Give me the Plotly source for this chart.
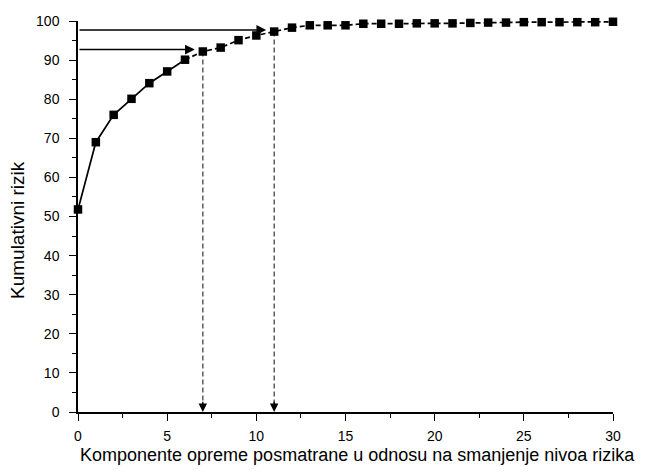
import plotly.graph_objects as go

# Data
x_vals = list(range(0, 31))
y_vals = [51.8, 69.0, 76.0, 80.1, 84.1, 87.1, 90.1, 92.2, 93.2, 95.1, 96.3, 97.3,
          98.3, 98.9, 98.9, 98.9, 99.3, 99.3, 99.3, 99.4, 99.4, 99.4, 99.5, 99.6,
          99.6, 99.7, 99.7, 99.7, 99.7, 99.7, 99.8]
solid_end = 6            # solid segment up to this index, dashed afterwards
arrow_x = [7, 11]        # components marked with arrows
arrow_y = [92.7, 97.7]   # horizontal arrow levels

x_ticks = [0, 5, 10, 15, 20, 25, 30]
y_ticks = [0, 10, 20, 30, 40, 50, 60, 70, 80, 90, 100]
x_title = "Komponente opreme posmatrane u odnosu na smanjenje nivoa rizika"
y_title = "Kumulativni rizik"

FONT = "Liberation Sans, Arial, sans-serif"

fig = go.Figure()

# vertical dashed guides (drawn first, below markers)
for xa, ya in zip(arrow_x, arrow_y):
    fig.add_shape(type="line", xref="x", yref="y", x0=xa, x1=xa, y0=y_vals[xa], y1=2,
                  line=dict(color="#444444", width=1.3, dash="5px,3px"), layer="below")

fig.add_trace(go.Scatter(x=x_vals[:solid_end + 1], y=y_vals[:solid_end + 1], mode="lines",
                         line=dict(color="black", width=1.7), hoverinfo="skip", showlegend=False))
fig.add_trace(go.Scatter(x=x_vals[solid_end:], y=y_vals[solid_end:], mode="lines",
                         line=dict(color="black", width=1.7, dash="5px,3px"), hoverinfo="skip",
                         showlegend=False))
fig.add_trace(go.Scatter(x=x_vals, y=y_vals, mode="markers",
                         marker=dict(symbol="square", size=8.5, color="black"),
                         cliponaxis=False, showlegend=False))

# horizontal arrows from y-axis to points
for xa, ya in zip(arrow_x, arrow_y):
    fig.add_annotation(x=xa, y=ya, ax=0, ay=ya, xref="x", yref="y", axref="x", ayref="y",
                       showarrow=True, arrowhead=2, arrowsize=1.3, arrowwidth=1.5,
                       arrowcolor="black", standoff=8, text="")
    # arrowhead at the bottom of vertical dashed guides
    fig.add_annotation(x=xa, y=0, ax=xa, ay=3, xref="x", yref="y", axref="x", ayref="y",
                       showarrow=True, arrowhead=2, arrowsize=1.3, arrowwidth=1.3,
                       arrowcolor="black", standoff=0, text="")

# axis titles as text annotations
fig.add_annotation(x=0.523, y=0, xref="paper", yref="paper", text=x_title, showarrow=False,
                   xanchor="center", yanchor="middle", yshift=-43, font=dict(size=18))
fig.add_annotation(x=0, y=0.4655, xref="paper", yref="paper", text=y_title, showarrow=False,
                   textangle=-90, xanchor="center", yanchor="middle", xshift=-60,
                   font=dict(size=19))

fig.update_layout(
    width=640, height=460,
    margin=dict(l=70, r=35, t=13, b=56),
    paper_bgcolor="white", plot_bgcolor="white",
    font=dict(family=FONT, size=14, color="black"),
)
fig.update_xaxes(range=[0, 30], tickvals=x_ticks, showgrid=False, zeroline=False,
                 showline=True, linecolor="black", linewidth=1.5, automargin=False,
                 ticks="outside", ticklen=7, tickwidth=1.3, tickcolor="black",
                 minor=dict(dtick=2.5, ticks="outside", ticklen=4, tickwidth=1.2, tickcolor="black"),
                 tickfont=dict(size=14), ticklabelstandoff=3)
fig.update_yaxes(range=[0, 100], tickvals=y_ticks, showgrid=False, zeroline=False,
                 showline=True, linecolor="black", linewidth=1.5, automargin=False,
                 ticks="outside", ticklen=7, tickwidth=1.3, tickcolor="black",
                 minor=dict(dtick=5, ticks="outside", ticklen=4, tickwidth=1.2, tickcolor="black"),
                 tickfont=dict(size=14), ticklabelstandoff=7)

fig.write_html("out.html")
